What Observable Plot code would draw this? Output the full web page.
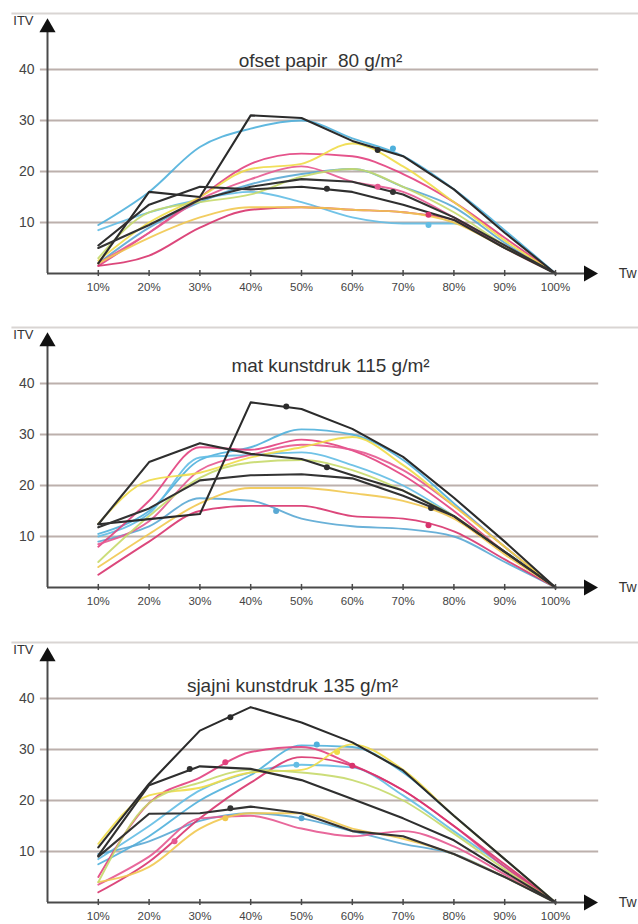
<!DOCTYPE html>
<html>
<head>
<meta charset="utf-8">
<script src="https://cdn.jsdelivr.net/npm/d3@7"></script>
<script src="https://cdn.jsdelivr.net/npm/@observablehq/plot@0.6"></script>
<style>
  html, body { margin: 0; padding: 0; background: #fff; overflow: hidden; }
  #chart { width: 638px; }
  #chart svg { display: block; overflow: visible; }
</style>
</head>
<body>
<div id="chart"></div>
<script>
// ---- shared axes ----
const xPct = [10, 20, 30, 40, 50, 60, 70, 80, 90, 100];
const xTickLabels = ["10%", "20%", "30%", "40%", "50%", "60%", "70%", "80%", "90%", "100%"];
const yTickValues = [10, 20, 30, 40];
const yAxisLabel = "ITV";
const xAxisLabel = "Tw";
const seriesKeys = ["C1", "C2", "C3", "M1", "M2", "M3", "Y1", "Y2", "Y3", "K1", "K2", "K3"];

// ---- panel 1: ofset papir 80 g/m2 ----
const ofsetTitle = "ofset papir  80 g/m²";
const ofset_C1 = [9.5, 16, 24.8, 28.4, 30, 26.5, 23, 16.5, 8.5, 0];
const ofset_C2 = [8.5, 12, 14.5, 16, 14, 11, 9.8, 9.8, 5, 0];
const ofset_C3 = [2, 9, 14, 17.5, 19.5, 20.5, 17, 13, 6, 0];
const ofset_M1 = [1.5, 8, 15, 21.5, 23.5, 23, 19.5, 14, 7, 0];
const ofset_M2 = [1.5, 3.5, 9, 12.5, 13, 12.5, 12, 10.5, 5, 0];
const ofset_M3 = [2, 8, 14.5, 18.5, 21, 18, 16, 11, 5.5, 0];
const ofset_Y1 = [2.5, 10, 15, 20.5, 21.5, 25.5, 21, 14, 6.5, 0];
const ofset_Y2 = [2, 7, 11, 13, 13, 12.5, 12, 10, 5, 0];
const ofset_Y3 = [3, 12, 14, 15.5, 19, 20.5, 17, 12, 5.5, 0];
const ofset_K1 = [2, 16, 15, 31, 30.5, 26, 23, 16.5, 8, 0];
const ofset_K2 = [5.5, 13.5, 17, 16.5, 17, 16, 13.5, 10.5, 5, 0];
const ofset_K3 = [5, 9.5, 14.5, 17, 18.5, 18, 15.5, 11, 5.5, 0];
const ofset_markX = [65, 55, 68, 68, 75, 65, 75];
const ofset_markY = [24.2, 16.6, 16, 24.5, 9.5, 17, 11.5];
const ofset_markS = ["K1", "K2", "K3", "C1", "C2", "M3", "M2"];

// ---- panel 2: mat kunstdruk 115 g/m2 ----
const matTitle = "mat kunstdruk 115 g/m²";
const mat_C1 = [10.5, 15, 25, 27.5, 31, 30, 25, 16.5, 8, 0];
const mat_C2 = [10, 14.5, 25.5, 26, 26.5, 24, 20, 14, 7, 0];
const mat_C3 = [9, 12, 17.5, 17, 13.5, 12, 11.5, 10, 5, 0];
const mat_M1 = [8, 17, 27.5, 27, 29, 26.9, 22, 15, 7, 0];
const mat_M2 = [2.5, 9, 15, 16, 16, 14, 13.5, 11, 5.5, 0];
const mat_M3 = [8.5, 13, 23, 26, 28, 27, 23, 16, 8, 0];
const mat_Y1 = [12.5, 21, 22.5, 25.5, 27.5, 29.5, 24, 16, 8, 0];
const mat_Y2 = [4, 10.5, 16.5, 19.5, 19.5, 18.5, 17, 13.5, 6.5, 0];
const mat_Y3 = [5, 14, 21.5, 24.5, 25, 23, 19, 14, 7, 0];
const mat_K1 = [12.4, 13.4, 14.4, 36.3, 35, 31.1, 25.6, 17.6, 9, 0];
const mat_K2 = [12.4, 24.6, 28.3, 26.2, 25.2, 22, 19, 14, 7, 0];
const mat_K3 = [11.8, 15.5, 21, 22, 22.2, 21.4, 18, 14, 7, 0];
const mat_markX = [47, 55, 75.5, 45, 75];
const mat_markY = [35.5, 23.6, 15.6, 15, 12.2];
const mat_markS = ["K1", "K2", "K2", "C3", "M2"];

// ---- panel 3: sjajni kunstdruk 135 g/m2 ----
const sjajniTitle = "sjajni kunstdruk 135 g/m²";
const sjajni_C1 = [7.5, 13, 20, 25, 30.8, 30.5, 25.5, 17, 8.5, 0];
const sjajni_C2 = [8.5, 15, 22, 25.5, 27, 26.5, 21, 14, 7, 0];
const sjajni_C3 = [9.5, 12, 16, 17.5, 16.5, 14, 11.5, 9.5, 5, 0];
const sjajni_M1 = [5, 19.5, 24.5, 29.5, 30.5, 27, 22, 15, 7, 0];
const sjajni_M2 = [2, 8, 16.5, 23.5, 28.5, 26.8, 22, 15, 7.5, 0];
const sjajni_M3 = [3.5, 9, 16.5, 17, 14.5, 13, 14, 11, 5.5, 0];
const sjajni_Y1 = [11.5, 21, 22.5, 25.5, 26, 31, 26, 17, 8.5, 0];
const sjajni_Y2 = [4, 7, 14.5, 17.5, 17.5, 14.5, 12.5, 9.5, 5, 0];
const sjajni_Y3 = [4, 19.5, 23.5, 26, 25.5, 24, 20, 13.5, 6.5, 0];
const sjajni_K1 = [10.8, 23.3, 33.7, 38.3, 35.3, 31.4, 25.9, 17, 8.5, 0];
const sjajni_K2 = [9.2, 23, 26.7, 26.2, 24, 20.3, 16.5, 12.2, 6, 0];
const sjajni_K3 = [9, 17.4, 17.5, 18.8, 17.5, 14, 13, 9.5, 5, 0];
const sjajni_markX = [36, 28, 36, 35, 60, 25, 53, 49, 50, 57, 35];
const sjajni_markY = [36.3, 26.2, 18.5, 27.5, 26.8, 12, 31, 27, 16.5, 29.5, 16.5];
const sjajni_markS = ["K1", "K2", "K3", "M1", "M2", "M3", "C1", "C2", "C3", "Y1", "Y2"];

// ---- styles ----
const seriesColors = ["#4fb0dc", "#62bde4", "#5aa9d4", "#e2407e", "#d8336d", "#e65890",
                      "#efdc48", "#f1c850", "#c6d96a", "#2b2b2b", "#2f2f2f", "#333333"];
const FONT = "'Liberation Sans', Arial, sans-serif";

function rowsFrom(series) {
  const rows = [];
  for (const [s, vals] of Object.entries(series)) {
    vals.forEach((v, i) => rows.push({s, x: xPct[i], y: v, black: s[0] === "K"}));
  }
  return rows;
}
function marksFrom(xs, ys, ss) {
  return xs.map((x, i) => ({x, y: ys[i], s: ss[i]}));
}

function panel(cfg) {
  const rows = rowsFrom(cfg.series);
  const colored = rows.filter(d => !d.black);
  const black = rows.filter(d => d.black);
  return Plot.plot({
    width: 638,
    height: cfg.height,
    marginLeft: 47,
    marginRight: 83,
    marginTop: cfg.mt,
    marginBottom: cfg.mb,
    style: {fontFamily: FONT, background: "transparent", overflow: "visible"},
    x: {domain: [0, 100], axis: null},
    y: {domain: [0, 50], axis: null},
    color: {domain: seriesKeys, range: seriesColors},
    marks: [
      // faint scan edge at top of each panel
      Plot.ruleY([51], {x1: -7, x2: 125, stroke: "#d9d5d3", strokeWidth: 2}),
      // grid
      Plot.ruleY(yTickValues, {x1: -1.4, x2: 108.5, stroke: "#bcb0ac", strokeWidth: 2.2}),
      // colored series
      Plot.line(colored, {x: "x", y: "y", z: "s", stroke: "s", strokeWidth: 1.9,
        strokeOpacity: 0.9, curve: "monotone-x"}),
      // black series
      Plot.line(black, {x: "x", y: "y", z: "s", stroke: "s", strokeWidth: 2.1, curve: "linear"}),
      Plot.dot(cfg.marks, {x: "x", y: "y", fill: "s", r: 3}),
      // axes
      Plot.ruleY([0], {x1: 0, x2: 106, stroke: "#4a4a4a", strokeWidth: 2}),
      Plot.ruleX([0], {y1: 0, y2: 48, stroke: "#4a4a4a", strokeWidth: 2}),
      Plot.ruleX(xPct, {y1: -0.6, y2: 0.6, stroke: "#4a4a4a", strokeWidth: 1.5}),
      Plot.dot([108.3], {x: d => d, y: 0, symbol: "triangle", r: 6, rotate: 90, dx: -9, fill: "#111", stroke: "none"}),
      Plot.dot([50], {x: 0, y: d => d, symbol: "triangle", r: 6, dy: 9, fill: "#111", stroke: "none"}),
      // tick labels
      Plot.text(yTickValues, {x: 0, y: d => d, text: d => String(d), dx: -13, textAnchor: "end",
        fontSize: 14, fill: "#444"}),
      Plot.text(xPct, {x: d => d, y: 0, text: (d, i) => xTickLabels[i], dy: 14,
        fontSize: 11.5, fill: "#444"}),
      Plot.text([yAxisLabel], {x: 0, y: 50, dx: -14, dy: 6, textAnchor: "end", lineAnchor: "bottom",
        fontSize: 13, fill: "#333"}),
      Plot.text([xAxisLabel], {x: 108.3, y: 0, dx: 21, textAnchor: "start",
        fontSize: 14, fill: "#333"}),
      // title
      Plot.text([cfg.title], {frameAnchor: "top-left", dx: cfg.tdx, dy: cfg.tdy, textAnchor: "middle",
        fontSize: 19, fill: "#333"})
    ]
  });
}

const panels = [
  {title: ofsetTitle, height: 300, mt: 18, mb: 27, tdx: 273, tdy: 35,
   series: {C1: ofset_C1, C2: ofset_C2, C3: ofset_C3, M1: ofset_M1, M2: ofset_M2, M3: ofset_M3,
            Y1: ofset_Y1, Y2: ofset_Y2, Y3: ofset_Y3, K1: ofset_K1, K2: ofset_K2, K3: ofset_K3},
   marks: marksFrom(ofset_markX, ofset_markY, ofset_markS)},
  {title: matTitle, height: 315, mt: 32, mb: 28, tdx: 283, tdy: 26,
   series: {C1: mat_C1, C2: mat_C2, C3: mat_C3, M1: mat_M1, M2: mat_M2, M3: mat_M3,
            Y1: mat_Y1, Y2: mat_Y2, Y3: mat_Y3, K1: mat_K1, K2: mat_K2, K3: mat_K3},
   marks: marksFrom(mat_markX, mat_markY, mat_markS)},
  {title: sjajniTitle, height: 309, mt: 32, mb: 22, tdx: 245, tdy: 31,
   series: {C1: sjajni_C1, C2: sjajni_C2, C3: sjajni_C3, M1: sjajni_M1, M2: sjajni_M2, M3: sjajni_M3,
            Y1: sjajni_Y1, Y2: sjajni_Y2, Y3: sjajni_Y3, K1: sjajni_K1, K2: sjajni_K2, K3: sjajni_K3},
   marks: marksFrom(sjajni_markX, sjajni_markY, sjajni_markS)}
];

const root = document.getElementById("chart");
for (const p of panels) root.appendChild(panel(p));
</script>
</body>
</html>
